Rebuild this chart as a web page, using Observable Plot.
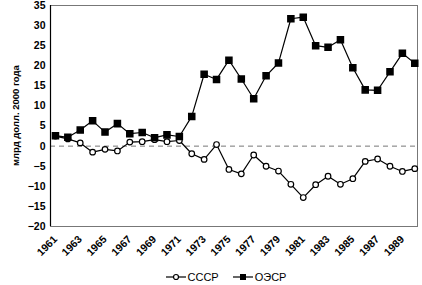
<!DOCTYPE html>
<html>
<head>
<meta charset="utf-8">
<script src="https://cdn.jsdelivr.net/npm/d3@7"></script>
<script src="https://cdn.jsdelivr.net/npm/@observablehq/plot@0.6"></script>
<style>
  html, body { margin: 0; padding: 0; background: #fff; }
  body { width: 422px; height: 285px; overflow: hidden; font-family: "Liberation Sans", Arial, sans-serif; }
  #legend { display: flex; justify-content: center; align-items: center; gap: 14px; font-size: 11px; height: 17px; margin-left: 30px; margin-top: 2px; }
  #legend span { display: inline-flex; align-items: center; gap: 2px; }
</style>
</head>
<body>
<div id="chart"></div>
<div id="legend"></div>
<script>
const years = d3.range(1961, 1991);
const ussr = [2.5, 1.8, 0.8, -1.5, -0.8, -1.2, 1.0, 1.1, 1.6, 1.1, 1.4, -1.9, -3.3, 0.4, -5.8, -6.9, -2.2, -5.0, -6.2, -9.5, -12.8, -9.6, -7.5, -9.5, -8.1, -3.8, -3.2, -5.0, -6.3, -5.6];
const oecd = [2.6, 2.2, 4.0, 6.3, 3.5, 5.6, 3.1, 3.4, 2.1, 2.8, 2.4, 7.4, 17.9, 16.6, 21.4, 16.7, 11.8, 17.5, 20.7, 31.7, 32.1, 25.0, 24.6, 26.5, 19.5, 14.0, 13.9, 18.5, 23.1, 20.6];
const seriesNames = ["СССР", "ОЭСР"];
const yTicks = d3.range(-20, 36, 5);
const xTicks = d3.range(1961, 1990, 2);
const yLabel = "млрд долл. 2000 года";

const ussrData = years.map((y, i) => ({year: y, value: ussr[i]}));
const oecdData = years.map((y, i) => ({year: y, value: oecd[i]}));

const chart = Plot.plot({
  width: 422,
  height: 266,
  marginLeft: 50,
  marginRight: 5,
  marginTop: 5,
  marginBottom: 40,
  style: {fontFamily: "Liberation Sans, Arial, sans-serif", fontSize: "10.5px", fontWeight: "bold", color: "#000", background: "#fff"},
  x: {domain: [1960.6, 1990.22]},
  y: {domain: [-20, 35]},
  marks: [
    Plot.frame({stroke: "#777", strokeWidth: 1}),
    Plot.ruleY([0], {stroke: "#777", strokeDasharray: "5,4"}),
    Plot.ruleX([1960.6], {stroke: "#000", strokeWidth: 1.2}),
    Plot.axisY({ticks: yTicks, tickSize: 0, tickPadding: 5, label: null, fontWeight: "bold"}),
    Plot.axisX({ticks: xTicks, tickFormat: d => String(d), tickSize: 0, tickRotate: -45, tickPadding: 11, label: null, fontWeight: "bold"}),
    Plot.text([yLabel], {frameAnchor: "left", dx: -35, dy: 50, rotate: -90, text: d => d, fontSize: 9.5, fontWeight: "bold"}),
    Plot.line(ussrData, {x: "year", y: "value", stroke: "#000", strokeWidth: 1.2}),
    Plot.line(oecdData, {x: "year", y: "value", stroke: "#000", strokeWidth: 1.2}),
    Plot.dot(ussrData, {x: "year", y: "value", r: 2.8, fill: "#fff", stroke: "#000", strokeWidth: 1.2}),
    Plot.dot(oecdData, {x: "year", y: "value", symbol: "square", r: 3.4, fill: "#000", stroke: "#000"})
  ]
});
document.getElementById("chart").appendChild(chart);

const legend = document.getElementById("legend");
const swatches = [
  `<svg width="20" height="10"><line x1="0" y1="5" x2="20" y2="5" stroke="#000" stroke-width="1.2"/><circle cx="10" cy="5" r="2.5" fill="#fff" stroke="#000" stroke-width="1.2"/></svg>`,
  `<svg width="20" height="10"><line x1="0" y1="5" x2="20" y2="5" stroke="#000" stroke-width="1.2"/><rect x="7" y="2" width="6" height="6" fill="#000"/></svg>`
];
seriesNames.forEach((name, i) => {
  const s = document.createElement("span");
  s.innerHTML = swatches[i] + `<span>${name}</span>`;
  legend.appendChild(s);
});
</script>
</body>
</html>
